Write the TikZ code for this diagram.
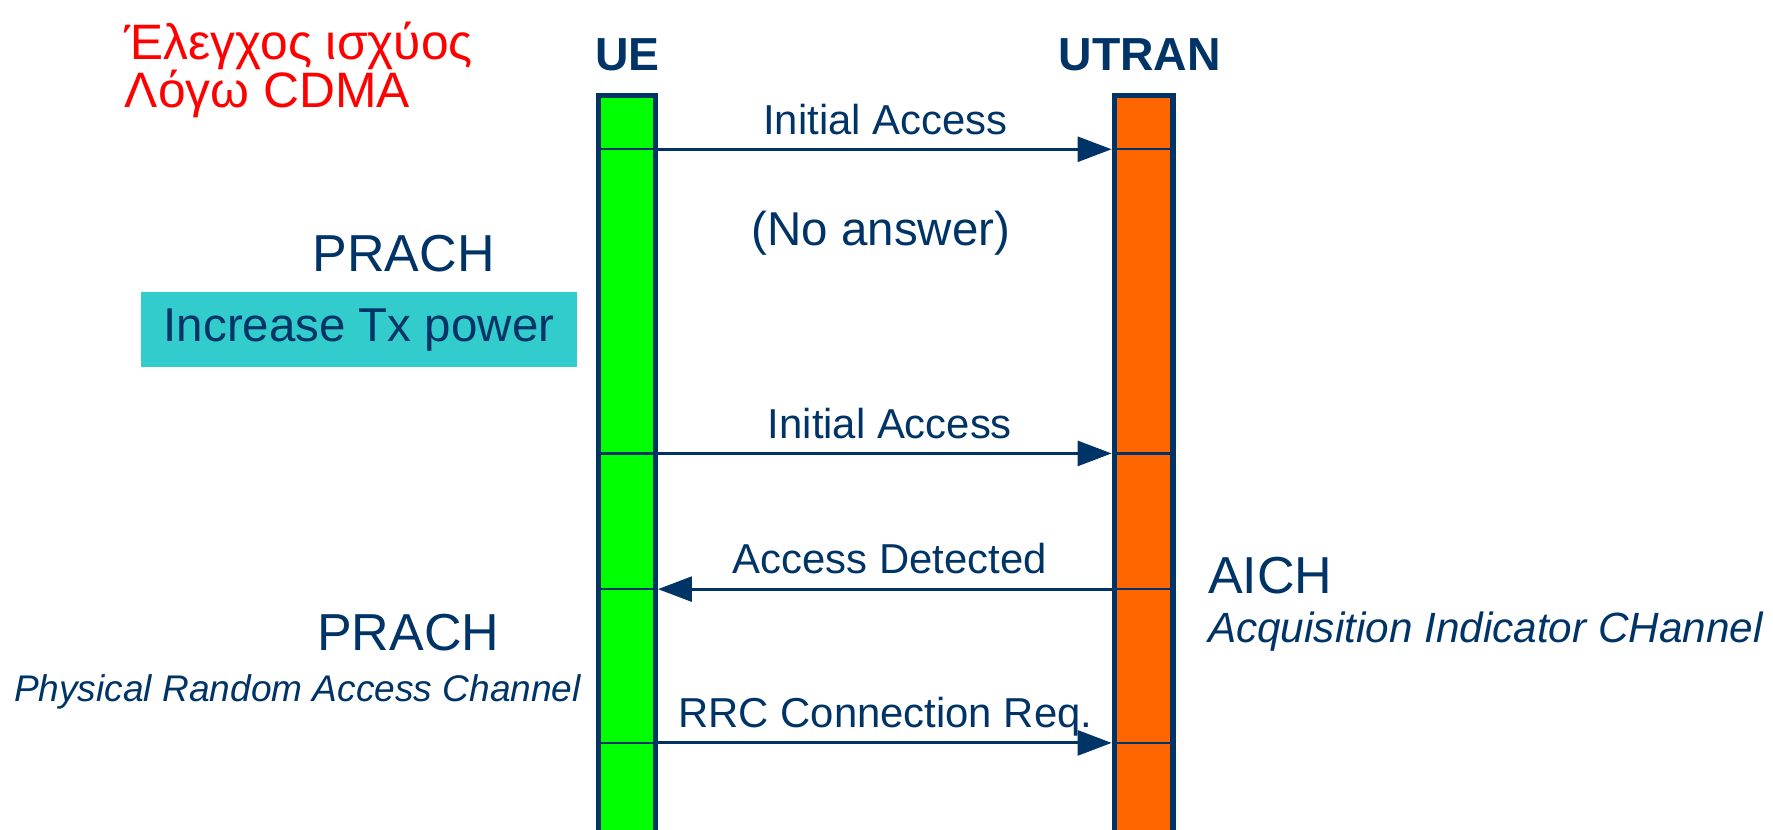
\documentclass[tikz,border=0pt]{standalone}
\usepackage{fontspec}
\setmainfont{Liberation Sans}
\usetikzlibrary{arrows.meta}
\definecolor{navy}{RGB}{0,51,102}
\definecolor{uegreen}{RGB}{0,255,0}
\definecolor{utorange}{RGB}{255,102,0}
\definecolor{boxcyan}{RGB}{51,204,204}
\definecolor{grred}{RGB}{255,0,0}
\tikzset{
  lbl/.style={inner sep=0pt, text=navy, anchor=base},
  msglbl/.style={lbl, font=\fontsize{18.5pt}{22pt}\selectfont},
  chanlbl/.style={lbl, font=\fontsize{23pt}{27pt}\selectfont},
  entity/.style={lbl, font=\fontsize{20.5pt}{24pt}\selectfont\bfseries},
  bar/.style={draw=navy, line width=2.4pt, minimum height=337.75pt, inner sep=0pt},
  msg/.style={draw=navy, line width=1.3pt, -{Triangle[length=15pt,width=11pt]}},
  cross/.style={draw=navy, line width=1pt}
}
\begin{document}
\begin{tikzpicture}[x=0.5pt,y=-0.5pt]
\useasboundingbox (0,0) rectangle (1568,734);
% bars
\node[bar, fill=uegreen, minimum width=25pt] (ue) at (554.5,422.25) {};
\node[bar, fill=utorange, minimum width=26pt] (utran) at (1011.5,422.25) {};
% entity titles
\node[entity] (uet) at (555,62) {UE};
\node[entity] (utrant) at (1008,62) {UTRAN};
% greek title
\node[lbl, anchor=base west, text=grred, font=\fontsize{22pt}{26pt}\selectfont] (g1) at (110,53) {Έλεγχος ισχύος};
\node[lbl, anchor=base west, text=grred, font=\fontsize{22pt}{26pt}\selectfont] (g2) at (110,95) {Λόγω CDMA};
% message levels
\coordinate (m1) at (0,132);
\coordinate (m2) at (0,401);
\coordinate (m3) at (0,521);
\coordinate (m4) at (0,657);
% crossings of bars
\foreach \m in {m1,m2,m3,m4}{
  \draw[cross] (ue.west |- \m) -- (ue.east |- \m);
  \draw[cross] (utran.west |- \m) -- (utran.east |- \m);
}
% messages
\draw[msg] (ue.east |- m1) -- (utran.west |- m1);
\draw[msg] (ue.east |- m2) -- (utran.west |- m2);
\draw[msg] (utran.west |- m3) -- (ue.east |- m3);
\draw[msg] (ue.east |- m4) -- (utran.west |- m4);
% message labels
\node[msglbl] (l1) at (783,119) {Initial Access};
\node[lbl, font=\fontsize{21pt}{25pt}\selectfont] (noans) at (779,217) {(No answer)};
\node[msglbl] (l2) at (787,388) {Initial Access};
\node[msglbl] (l3) at (787,507) {Access Detected};
\node[msglbl] (l4) at (783,643) {RRC Connection Req.};
% left side
\node[chanlbl] (prach1) at (357,240) {PRACH};
\node[fill=boxcyan, minimum width=192.5pt, minimum height=33.5pt, inner sep=0pt, text=navy, font=\fontsize{21pt}{25pt}\selectfont] (inc) at (317.5,291.5) {Increase Tx power};
\node[chanlbl] (prach2) at (361,575) {PRACH};
\node[lbl, anchor=base west, font=\fontsize{16.4pt}{20pt}\selectfont\itshape] (prachd) at (12,620) {Physical Random Access Channel};
% right side
\node[chanlbl, anchor=base west] (aich) at (1068,525) {AICH};
\node[lbl, anchor=base west, font=\fontsize{18.7pt}{22pt}\selectfont\itshape] (aichd) at (1068,568) {Acquisition Indicator CHannel};
\end{tikzpicture}
\end{document}
